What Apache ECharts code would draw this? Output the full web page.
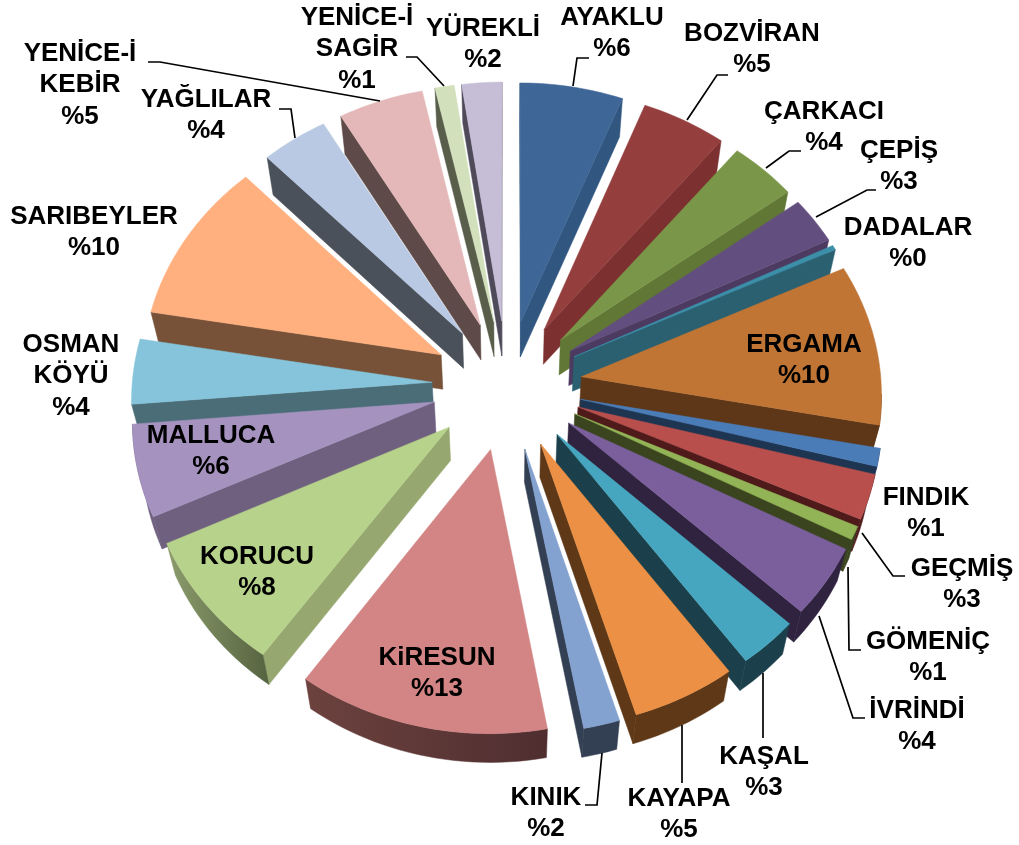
<!DOCTYPE html>
<html>
<head>
<meta charset="utf-8">
<title>Pasta grafik</title>
<script src="https://cdn.jsdelivr.net/npm/echarts@6/dist/echarts.min.js"></script>
<style>
  html, body { margin: 0; padding: 0; background: #fff; }
  #chart { width: 1019px; height: 845px; }
</style>
</head>
<body>
<div id="chart"></div>
<script>
const names = ['AYAKLU', 'BOZVİRAN', 'ÇARKACI', 'ÇEPİŞ', 'DADALAR', 'ERGAMA', 'FINDIK', 'GEÇMİŞ', 'GÖMENİÇ', 'İVRİNDİ', 'KAŞAL', 'KAYAPA', 'KINIK', 'KiRESUN', 'KORUCU', 'MALLUCA', 'OSMAN\nKÖYÜ', 'SARIBEYLER', 'YAĞLILAR', 'YENİCE-İ\nKEBİR', 'YENİCE-İ\nSAGİR', 'YÜREKLİ']
// the rounded numbers printed on the labels
const percents = [6, 5, 4, 3, 0, 10, 1, 3, 1, 4, 3, 5, 2, 13, 8, 6, 4, 10, 4, 5, 1, 2]
// slice sizes
const shares = [5.94, 4.89, 3.89, 2.94, 0.3, 10.0, 1.11, 2.78, 0.83, 4.31, 3.06, 5.26, 1.82, 12.64, 8.19, 5.69, 4.03, 10.14, 3.85, 4.91, 1.11, 2.3]

const topColors = ['#3E6797', '#953E3E', '#7A9648', '#634F7F', '#3C8FA8', '#C07535', '#4A7CB8', '#B84F4C', '#92B456', '#7B5F9C', '#47A6BF', '#EC9045', '#84A2D0', '#D38484', '#B7D28A', '#A592BE', '#85C4DA', '#FFB07E', '#B9C9E3', '#E4B8B8', '#D3E0BC', '#C6BDD6']
const wallColors = ['#315780', '#7C3030', '#617735', '#4C3A60', '#2A6070', '#5E3718', '#1E3552', '#4F1B1A', '#3A4520', '#2F2340', '#1B404C', '#5E3817', '#333F52', '#532F31', '#96A870', '#706080', '#4A6D78', '#785238', '#4A515A', '#5E4A48', '#585E4A', '#4F4A5A']
const rimColors = ['#315780', '#7C3030', '#617735', '#4C3A60', '#2A6070', '#5E3718', '#1E3552', '#4F1B1A', '#3A4520', '#2F2340', '#1B404C', '#5E3817', '#333F52', '#4F2E30', '#566340', '#706080', '#4A6D78', '#785238', '#4A515A', '#5E4A48', '#585E4A', '#4F4A5A']
// the far end of the rim where it gets lighter
const rimEndColors = { 13: '#6C423E', 14: '#8C9C6C' }

// label centres, first line
const labelPos = [[612, 17], [752, 33], [824, 111], [899, 150], [908, 227], [804, 344], [926, 497], [962, 568], [928, 641], [917, 710], [764, 756], [679, 798], [546, 797], [437, 657], [257, 556], [211, 435], [71, 344], [94, 216], [206, 99], [80, 53], [357, 17], [483, 28]]
const leaders = [
  [[573, 86], [577, 58], [589, 58]],
  [[687, 120], [717, 75], [728, 75]],
  [[766, 168], [789, 151], [801, 151]],
  [[816, 217], [867, 190], [876, 190]],
  null, null, null,
  [[862, 533], [893, 576], [905, 576]],
  [[848, 567], [849, 650], [861, 650]],
  [[819, 616], [853, 718], [865, 718]],
  [[763, 673], [763, 738]],
  [[682, 725], [682, 783]],
  [[602, 753], [597, 805], [585, 805]],
  null, null, null, null, null,
  [[295, 138], [291, 109], [279, 109]],
  [[380, 101], [160, 62], [148, 62]],
  [[444, 86], [417, 57], [406, 57]],
  null
]

const cx = 507, cy = 385, Rx = 300, Ry = 260, explode = 0.25, persp = 0.058
const total = shares.reduce((a, b) => a + b, 0)

function project(u, v) {
  const s = 1 / (1 - persp * v)
  return [cx + Rx * u * s, cy + Ry * v * s]
}
function lower(p) {
  return [p[0] - 0.025 * (p[0] - cx), p[1] + 34 - 0.015 * (p[1] - cy)]
}

let acc = 0
const starts = shares.map(s => { const a = acc; acc += s; return a })

function renderSlice(params, api) {
  const i = api.value(0)
  const a0 = starts[i] / total * Math.PI * 2
  const a1 = a0 + api.value(1) / total * Math.PI * 2
  const mid = (a0 + a1) / 2
  const eu = explode * Math.sin(mid), ev = -explode * Math.cos(mid)
  const apex = project(eu, ev)
  const steps = Math.max(2, Math.ceil((a1 - a0) / 0.03))
  const rim = []
  for (let k = 0; k <= steps; k++) {
    const a = a0 + (a1 - a0) * k / steps
    rim.push(project(eu + Math.sin(a), ev - Math.cos(a)))
  }
  const z = 10 - Math.cos(mid) * 5
  const children = []
  const quad = (pts, fill, dz) => children.push({
    type: 'polygon', shape: { points: pts }, style: { fill: fill, stroke: fill, lineWidth: 0.5 }, z2: z + dz
  })
  const first = rim[0], last = rim[rim.length - 1]
  // side walls: an edge shows when it runs leftwards on screen
  if (first[0] < apex[0]) quad([apex, first, lower(first), lower(apex)], wallColors[i], 0.01)
  if (apex[0] < last[0]) quad([last, apex, lower(apex), lower(last)], wallColors[i], 0.01)
  const front = []
  for (let k = 1; k < rim.length; k++) {
    if (rim[k][0] < rim[k - 1][0]) {
      if (!front.length) front.push(rim[k - 1])
      front.push(rim[k])
    }
  }
  if (front.length) {
    const rimFill = rimEndColors[i]
      ? new echarts.graphic.LinearGradient(1, 0, 0, 0, [{ offset: 0, color: rimColors[i] }, { offset: 1, color: rimEndColors[i] }])
      : rimColors[i]
    quad(front.concat(front.slice().reverse().map(lower)), rimFill, 0.02)
  }
  quad([apex].concat(rim), topColors[i], 0.03)
  return { type: 'group', children: children }
}

function renderLabel(params, api) {
  const i = api.value(0)
  const children = [{
    type: 'text',
    style: {
      x: labelPos[i][0], y: labelPos[i][1] - 15,
      text: names[i] + '\n%' + api.value(1),
      fill: '#000', font: 'bold 26px "Liberation Sans", Arial, sans-serif',
      align: 'center', verticalAlign: 'top', lineHeight: 31.5
    }
  }]
  if (leaders[i]) {
    children.push({
      type: 'polyline', shape: { points: leaders[i] },
      style: { fill: null, stroke: '#000', lineWidth: 1.7 }
    })
  }
  return { type: 'group', children: children }
}

const chart = echarts.init(document.getElementById('chart'), null, { renderer: 'canvas' })
chart.setOption({
  animation: false,
  backgroundColor: '#fff',
  series: [
    { type: 'custom', coordinateSystem: 'none', silent: true, z: 2, renderItem: renderSlice, data: shares.map((s, i) => [i, s]) },
    { type: 'custom', coordinateSystem: 'none', silent: true, z: 3, renderItem: renderLabel, data: percents.map((p, i) => [i, p]) }
  ]
})
</script>
</body>
</html>
